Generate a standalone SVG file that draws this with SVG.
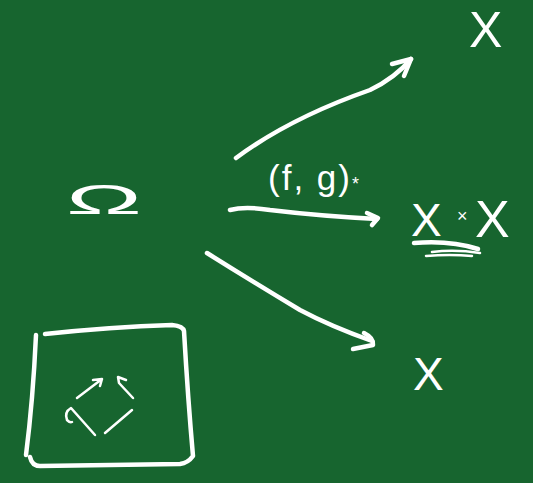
<svg xmlns="http://www.w3.org/2000/svg" width="533" height="483" viewBox="0 0 533 483">
<style>
.chalk{fill:none;stroke:#ffffff;stroke-width:4.5;stroke-linecap:round;stroke-linejoin:round}
.thin{fill:none;stroke:#ffffff;stroke-width:2.5;stroke-linecap:round;stroke-linejoin:round}
.lbl{fill:#ffffff;font-family:"Liberation Sans","DejaVu Sans",sans-serif}
</style>
<rect x="0" y="0" width="533" height="483" fill="#17652f"/>
<g id="omega">
<text class="lbl" x="104" y="214" font-size="42" text-anchor="middle" textLength="76" lengthAdjust="spacingAndGlyphs">Ω</text>
</g>
<g id="x-top">
<text class="lbl" x="469" y="47" font-size="50">X</text>
</g>
<g id="x-times-x">
<text class="lbl" x="411" y="236" font-size="46">X<tspan x="457" y="222" font-size="18">×</tspan><tspan x="475" y="237" font-size="52">X</tspan></text>
<path class="chalk" d="M414 243 Q450 240 478 249"/>
<path class="thin" d="M432 252 Q455 249 480 253 M426 256 Q450 254 472 256"/>
</g>
<g id="x-bottom">
<text class="lbl" x="413" y="390" font-size="46">X</text>
</g>
<g id="box">
<path class="chalk" d="M36 335 Q33 400 26 455 M45 334 Q110 327 172 325 Q183 326 184 331 Q188 400 193 456 Q188 463 180 464 L40 466 Q32 466 30 457"/>
<path class="thin" d="M77 398 L102 379 M93 380 L102 379 L100 386"/>
<path class="thin" d="M133 398 L119 383 L118 377 L126 380"/>
<path class="thin" d="M95 435 L71 408 Q64 412 67 420 Q70 423 72 422"/>
<path class="thin" d="M105 433 L132 410"/>
</g>
<g id="connectors">
<path class="chalk" d="M236 158 Q290 118 370 90 Q395 78 411 59"/>
<path class="chalk" d="M392 64 L411 59 L404 76"/>
<path class="chalk" d="M230 210 Q245 206 270 210 Q320 216 377 219"/>
<path class="chalk" d="M367 213 L378 218 L372 225"/>
<text class="lbl" x="268" y="190" font-size="35" letter-spacing="2">(f, g)<tspan font-size="18">*</tspan></text>
<path class="chalk" d="M207 253 Q250 280 300 310 Q330 326 372 341"/>
<path class="chalk" d="M364 333 Q374 338 373 345 L353 349"/>
</g>
</svg>
